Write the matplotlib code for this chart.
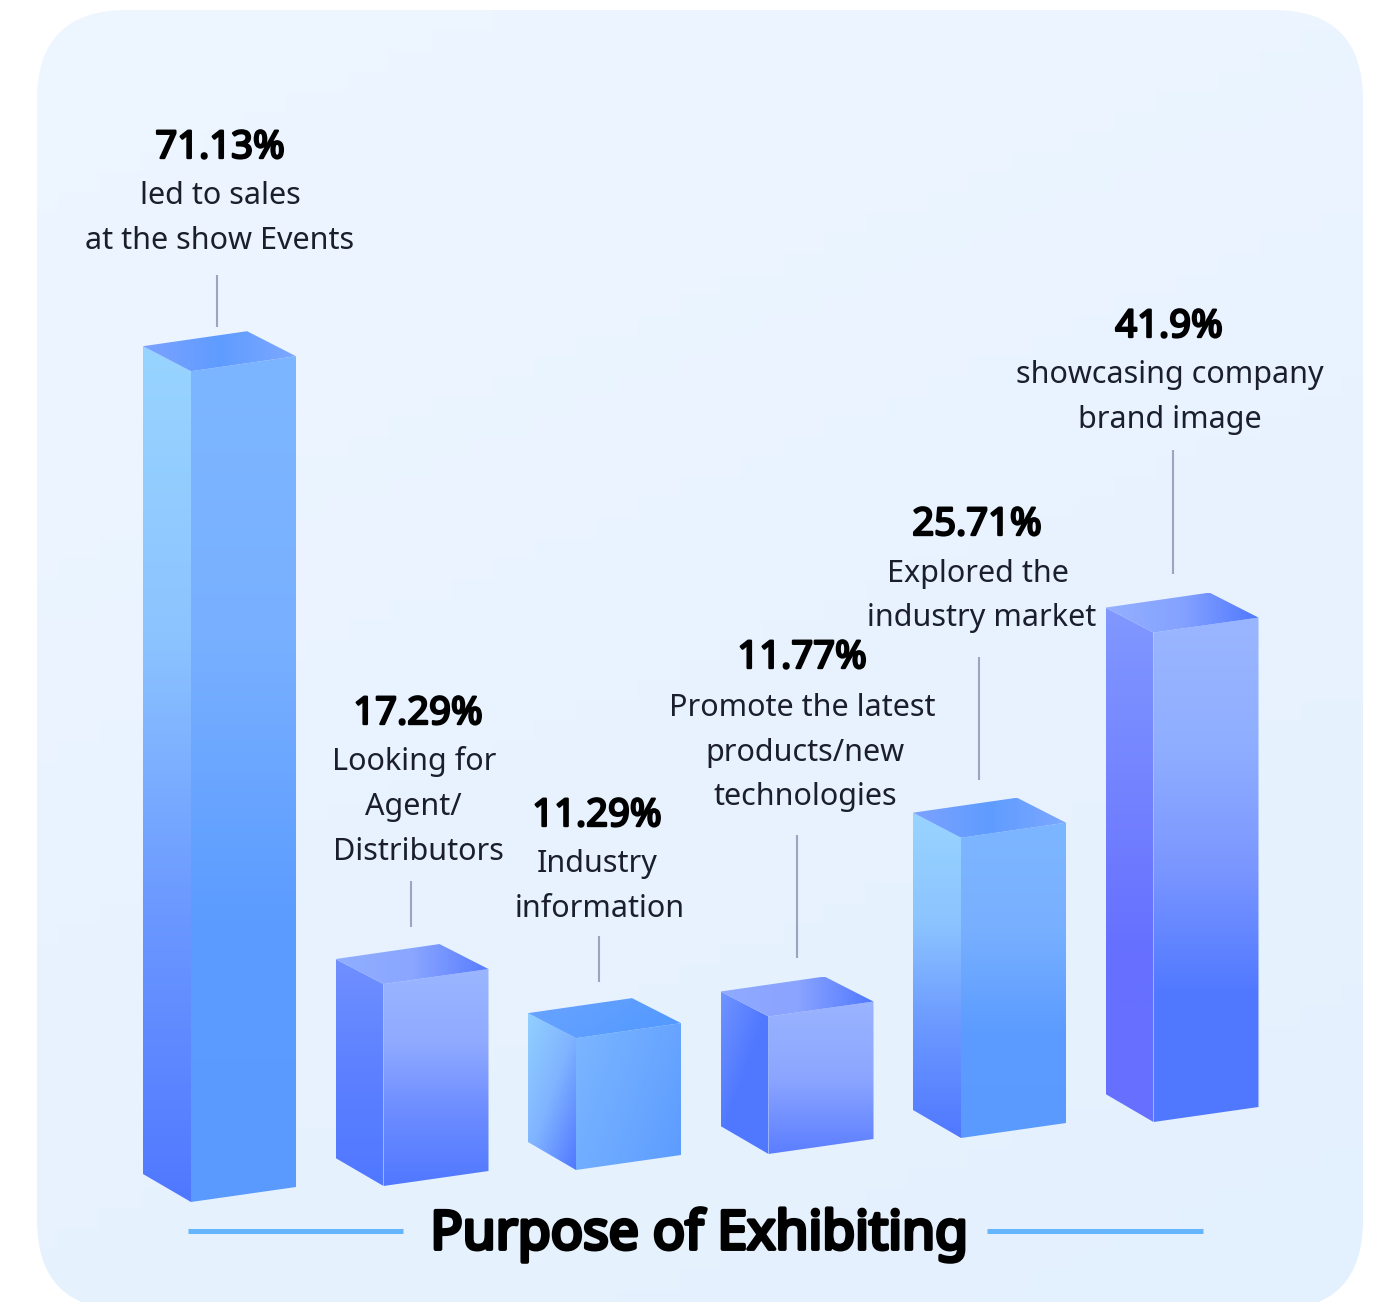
from __future__ import annotations

import numpy as np
import matplotlib
matplotlib.use("Agg")
import matplotlib.patheffects as pe
import matplotlib.pyplot as plt
from matplotlib.colors import LinearSegmentedColormap
from matplotlib.patches import FancyBboxPatch, Polygon


# data
CATEGORIES = [
    ["led to sales", "at the show Events"],
    ["Looking for", "Agent/", "Distributors"],
    ["Industry", "information"],
    ["Promote the latest", "products/new", "technologies"],
    ["Explored the", "industry market"],
    ["showcasing company", "brand image"],
]
VALUES = [71.13, 17.29, 11.29, 11.77, 25.71, 41.9]
VALUE_LABELS = ["71.13%", "17.29%", "11.29%", "11.77%", "25.71%", "41.9%"]
TITLE = "Purpose of Exhibiting"

# layout, in pixels of the 1379x1302 canvas
PX_PER_PCT = 11.68
BAR_LEFT = 143
BAR_STEP = 192.5
BASE_Y = 1202
BASE_STEP = -16
DEPTH_X, DEPTH_Y = 48, 28
WIDTH_X, WIDTH_Y = 105, -15

VALUE_POS = [(220, 158), (418, 724), (597, 826), (802, 668), (977, 535), (1169, 337)]
LINE_X = [
    [220, 220],
    [414, 413, 418],
    [597, 600],
    [802, 805, 805],
    [978, 982],
    [1170, 1170],
]
LINE_Y = [
    [204, 249],
    [770, 815, 860],
    [872, 917],
    [716, 761, 805],
    [582, 626],
    [383, 428],
]
LEADER_X = [217, 411, 599, 797, 979, 1173]
LEADER_Y = [(275, 327), (881, 927), (936, 982), (835, 958), (657, 780), (450, 574)]

# (stops, angle in degrees) for each face; angle 90 = top to bottom, 0 = left to right
COOL = {
    "front": (["#7db6ff", "#78b0ff", "#5c9cff", "#5a9aff"], 90),
    "left": (["#98d4ff", "#8cc4ff", "#6a98ff", "#5078ff"], 90),
    "top": (["#7ca2ff", "#5f9cff", "#7ca8ff"], 0),
}
VIOLET = {
    "front": (["#9ab6ff", "#90aaff", "#6c8cff", "#5078ff"], 90),
    "left": (["#7090ff", "#5c80ff", "#5078ff"], 90),
    "top": (["#90aeff", "#8aa6ff", "#587cff"], 0),
}
BAR_STYLES = [
    COOL,
    VIOLET,
    {
        "front": (["#7cb6ff", "#5c9cff"], 25),
        "left": (["#92d0ff", "#80b4ff", "#5078ff"], 50),
        "top": (["#6aa4ff", "#5098ff"], 20),
    },
    {
        "front": (["#9ab4ff", "#8ca6ff", "#5c7eff"], 90),
        "left": (["#7094ff", "#5078ff", "#5078ff"], 50),
        "top": (["#90aaff", "#8aa4ff", "#5078ff"], 0),
    },
    COOL,
    {
        "front": (["#9ab6ff", "#90aeff", "#7a96ff", "#5078ff", "#5078ff"], 90),
        "left": (["#8098ff", "#7484ff", "#6670ff", "#6670ff"], 90),
        "top": (["#94b0ff", "#84a2ff", "#5078ff"], 0),
    },
]


def gradient_fill(ax, patch, stops, angle, zorder=2):
    xy = patch.get_xy()
    x0, y0 = xy.min(axis=0)
    x1, y1 = xy.max(axis=0)
    v, u = np.mgrid[0:1:128j, 0:1:128j]
    rad = np.deg2rad(angle)
    t = u * np.cos(rad) + v * np.sin(rad)
    t = (t - t.min()) / (t.max() - t.min())
    cmap = LinearSegmentedColormap.from_list("face", stops)
    img = ax.imshow(
        t,
        cmap=cmap,
        vmin=0,
        vmax=1,
        extent=(x0, x1, y1, y0),
        origin="upper",
        aspect="auto",
        zorder=zorder,
    )
    patch.set_facecolor("none")
    patch.set_edgecolor("none")
    ax.add_patch(patch)
    img.set_clip_path(patch)


def draw_bar(ax, idx, value, style):
    left = BAR_LEFT + idx * BAR_STEP
    base = BASE_Y + idx * BASE_STEP
    top = base - value * PX_PER_PCT
    front = left + DEPTH_X
    right = front + WIDTH_X

    left_face = np.array([
        (left, top - DEPTH_Y + 3), (front, top),
        (front, base), (left, base - DEPTH_Y),
    ])
    front_face = np.array([
        (front, top), (right, top + WIDTH_Y),
        (right, base + WIDTH_Y), (front, base),
    ])
    top_face = np.array([
        (left, top - DEPTH_Y + 3), (left + WIDTH_X - 1, top - DEPTH_Y + 3 + WIDTH_Y),
        (right, top + WIDTH_Y), (front, top),
    ])
    for name, xy in (("left", left_face), ("front", front_face), ("top", top_face)):
        stops, angle = style[name]
        gradient_fill(ax, Polygon(xy, closed=True), stops, angle)


def heavy(width, color="#000000"):
    # Noto Sans here only comes in one weight, so thicken the strokes
    return [pe.withStroke(linewidth=width, foreground=color)]


def main() -> None:
    plt.rcParams["font.family"] = ["Noto Sans", "DejaVu Sans"]

    fig = plt.figure(figsize=(13.79, 13.02), dpi=100, facecolor="white")
    ax = fig.add_axes([0, 0, 1, 1])

    # rounded panel behind everything
    panel = FancyBboxPatch(
        (37 + 90, 10 + 90), 1326 - 180, 1300 - 180,
        boxstyle="round,pad=90,rounding_size=90",
        facecolor="none", edgecolor="none",
    )
    ax.add_patch(panel)
    v, u = np.mgrid[0:1:64j, 0:1:64j]
    cmap = LinearSegmentedColormap.from_list("bg", ["#eef6ff", "#e9f3ff", "#e3f0fd"])
    bg = ax.imshow(
        0.3 * u + 0.7 * v, cmap=cmap, vmin=0, vmax=1,
        extent=(37, 1363, 1310, 10), origin="upper", aspect="auto", zorder=1,
    )
    bg.set_clip_path(panel)

    for idx, value in enumerate(VALUES):
        draw_bar(ax, idx, value, BAR_STYLES[idx])

    for x, (y0, y1) in zip(LEADER_X, LEADER_Y):
        ax.plot([x, x], [y0, y1], color="#9ba5bf", lw=1.5, solid_capstyle="butt", zorder=3)

    for label, (x, y) in zip(VALUE_LABELS, VALUE_POS):
        ax.text(x, y, label, ha="center", va="baseline", fontsize=27.5,
                color="#000000", zorder=4, path_effects=heavy(1.7))

    for lines, xs, ys in zip(CATEGORIES, LINE_X, LINE_Y):
        for line, x, y in zip(lines, xs, ys):
            ax.text(x, y, line, ha="center", va="baseline", fontsize=22,
                    color="#1a1f2b", zorder=4)

    ax.text(699, 1249, TITLE, ha="center", va="baseline", fontsize=38.5,
            color="#000000", zorder=4, path_effects=heavy(2.8))
    for x0, x1 in ((188, 403), (987, 1203)):
        ax.plot([x0, x1], [1231, 1231], color="#66b6ff", lw=3.6,
                solid_capstyle="butt", zorder=3)

    ax.set_xlim(0, 1379)
    ax.set_ylim(1302, 0)
    ax.axis("off")

    fig.savefig("out.png", dpi=100, facecolor="white")
    plt.close(fig)


if __name__ == "__main__":
    main()
